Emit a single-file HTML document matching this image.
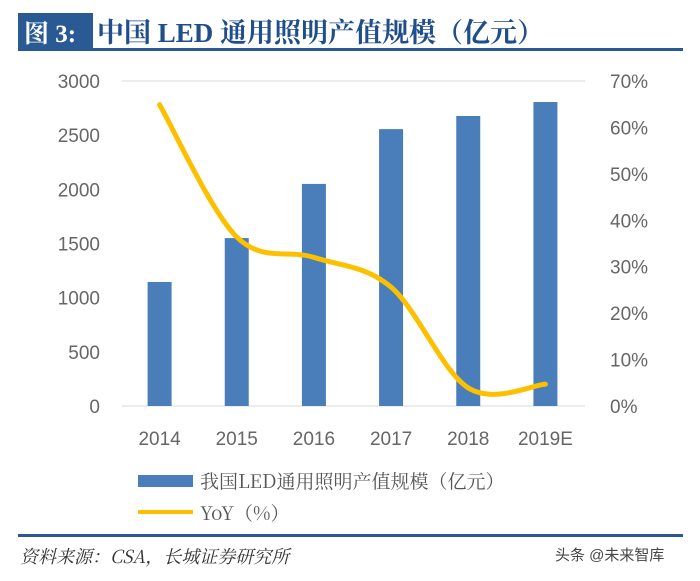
<!DOCTYPE html>
<html><head><meta charset="utf-8"><style>
body{margin:0;background:#fff;width:700px;height:576px;overflow:hidden;font-family:"Liberation Sans","Noto Sans CJK SC",sans-serif}
</style></head><body>
<svg width="700" height="576" xmlns="http://www.w3.org/2000/svg">
<rect x="18" y="13" width="75" height="36" fill="#2a5a93"/>
<text x="24" y="42" font-family="Liberation Serif,'Noto Serif CJK SC',serif" font-weight="bold" font-size="25" fill="#fff">图 3:</text>
<text x="97" y="42" font-family="Liberation Serif,'Noto Serif CJK SC',serif" font-weight="bold" font-size="27" fill="#1f4e8a">中国 LED 通用照明产值规模（亿元）</text>
<rect x="18" y="48" width="665" height="3" fill="#2a5a93"/>
<g id="axes"></g>
<g id="bars"></g>
<path id="yoy" fill="none" stroke="#fcc000" stroke-width="5" stroke-linecap="round"/>
<rect x="138" y="475" width="55" height="12" fill="#4a7ebb"/>
<text x="200" y="488" font-size="19" fill="#555" font-family="'Noto Serif CJK SC',serif">我国LED通用照明产值规模（亿元）</text>
<rect x="138" y="510" width="55" height="4" fill="#fcc000"/>
<text x="200" y="520" font-size="19" fill="#555" font-family="'Noto Serif CJK SC',serif">YoY（%）</text>
<rect x="18" y="534" width="665" height="3" fill="#2a5a93"/>
<text x="20" y="563" font-size="18" font-style="italic" fill="#333" font-family="'Noto Serif CJK SC',serif">资料来源：CSA，长城证券研究所</text>
<text x="555" y="560" font-size="15" fill="#444">头条 @未来智库</text>
</svg>
<script>
const categories=["2014","2015","2016","2017","2018","2019E"];
const values=[1145,1550,2050,2556,2677,2806];
const yoy=[64.9,36.4,32,25.6,3.9,4.7];
const leftTicks=[0,500,1000,1500,2000,2500,3000];
const rightTicks=[0,10,20,30,40,50,60,70];
const NS="http://www.w3.org/2000/svg";
const x0=122,x1=585,yb=406,yt=81;
const step=(x1-x0)/categories.length;
const xs=i=>x0+step*(i+0.5)-1;
const yL=v=>yb-(v/3000)*(yb-yt);
const yR=v=>yb-(v/70)*(yb-yt);
function mk(t,a,p){const e=document.createElementNS(NS,t);for(const k in a)e.setAttribute(k,a[k]);p.appendChild(e);return e;}
const ax=document.getElementById('axes'),bg=document.getElementById('bars');
const g=mk('line',{x1:x0,x2:x1,y1:yt,y2:yt,stroke:'#d9d9d9','stroke-width':1},ax);


const b=mk('line',{x1:x0,x2:x1,y1:yb,y2:yb,stroke:'#d9d9d9','stroke-width':1},ax);


leftTicks.forEach(v=>{const t=mk('text',{x:100,y:yL(v)+7,'text-anchor':'end','font-size':19,fill:'#666'},ax);t.textContent=v;

});
rightTicks.forEach(v=>{const t=mk('text',{x:610,y:yR(v)+7,'font-size':19,fill:'#666'},ax);t.textContent=v+'%';

});
categories.forEach((c,i)=>{const t=mk('text',{x:xs(i),y:445,'text-anchor':'middle','font-size':19,fill:'#666'},ax);t.textContent=c;


const r=mk('rect',{x:xs(i)-12,y:yL(values[i]),width:24,height:yb-yL(values[i]),fill:'#4a7ebb'},bg);

});
const pts=yoy.map((v,i)=>[xs(i),yR(v)]);
let d='M'+pts[0];
for(let i=0;i<pts.length-1;i++){const p0=pts[i-1]||pts[i],p1=pts[i],p2=pts[i+1],p3=pts[i+2]||p2;
const c1=[p1[0]+(p2[0]-p0[0])/6,p1[1]+(p2[1]-p0[1])/6],c2=[p2[0]-(p3[0]-p1[0])/6,p2[1]-(p3[1]-p1[1])/6];
d+=' C'+c1+' '+c2+' '+p2;}
document.getElementById('yoy').setAttribute('d',d);
</script>
</body></html>
